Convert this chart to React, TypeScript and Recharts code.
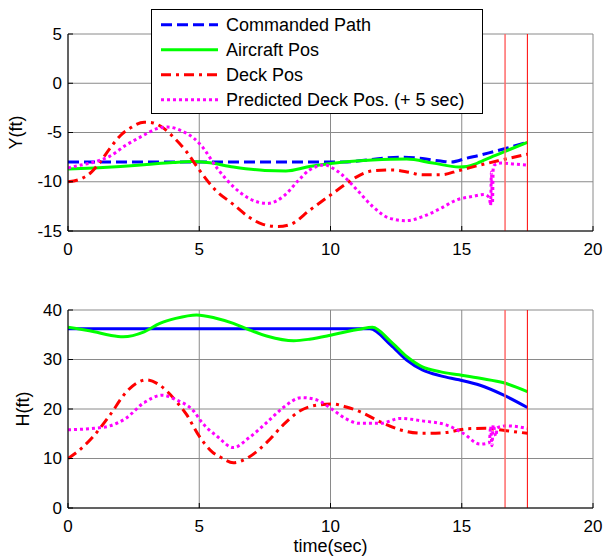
import React from 'react';
import { LineChart, Line, XAxis, YAxis, CartesianGrid, ReferenceLine, Legend, Label } from 'recharts';

// ---------- data ----------
const timeTicks = [0, 5, 10, 15, 20];
const yTicks = [-15, -10, -5, 0, 5];
const hTicks = [0, 10, 20, 30, 40];
const markerTimes = [16.65, 17.5];
const seriesNames = ['Commanded Path', 'Aircraft Pos', 'Deck Pos', 'Predicted Deck Pos. (+ 5 sec)'];

// lateral (Y, ft)
const yCommanded = [[0, -8], [10.5, -8], [11.2, -7.85], [12, -7.6], [12.8, -7.5], [13.5, -7.65], [14.2, -7.9], [14.6, -8.0], [15.2, -7.6], [15.7, -7.3], [16.2, -6.95], [16.7, -6.6], [17.5, -6.0]];
const yAircraft = [[0, -8.7], [1, -8.6], [2, -8.45], [3, -8.25], [4, -8.05], [4.7, -7.95], [5.3, -8.05], [6.3, -8.5], [7.5, -8.85], [8.3, -8.9], [9.2, -8.45], [10, -8.15], [10.5, -8.0], [11.6, -7.8], [12.9, -7.7], [13.9, -8.1], [14.9, -8.5], [15.2, -8.45], [15.6, -8.1], [16.2, -7.4], [16.8, -6.75], [17.5, -6.0]];
const yDeck = [[0, -10], [0.5, -9.7], [0.9, -9.0], [1.22, -8.0], [1.6, -6.6], [2.0, -5.3], [2.4, -4.5], [2.9, -3.95], [3.2, -4.0], [3.6, -4.5], [4.1, -5.7], [4.5, -6.9], [5.0, -8.8], [5.6, -10.8], [6.3, -12.3], [6.9, -13.6], [7.4, -14.3], [8, -14.55], [8.5, -14.3], [9.2, -12.9], [10, -11.35], [10.6, -10.2], [11, -9.5], [11.6, -8.9], [12.4, -8.8], [13, -9.05], [13.5, -9.3], [14.2, -9.3], [14.9, -8.85], [15.7, -8.3], [16.5, -7.8], [17.5, -7.2]];
const yPredicted = [[0, -8.6], [0.5, -8.3], [1, -8.0], [1.6, -7.4], [2.2, -6.3], [2.8, -5.4], [3.4, -4.6], [3.8, -4.45], [4.3, -4.8], [4.8, -5.6], [5.1, -6.4], [5.7, -8.7], [6.3, -10.5], [6.9, -11.7], [7.6, -12.2], [8.2, -11.5], [8.8, -9.8], [9.2, -8.8], [9.8, -8.3], [10, -8.5], [10.4, -9.2], [11, -10.8], [11.6, -12.5], [12.25, -13.7], [12.9, -13.95], [13.5, -13.55], [14.2, -12.7], [14.8, -11.85], [15.4, -11.5], [15.85, -11.3], [16.05, -11.6], [16.1, -12.4], [16.13, -9.0], [16.17, -12.2], [16.2, -8.6], [16.25, -8.3], [16.5, -8.1], [17, -8.2], [17.5, -8.3]];

// height (H, ft)
const hCommanded = [[0, 36.2], [11.5, 36.2], [12.3, 32.9], [12.9, 29.9], [13.5, 27.9], [14.2, 26.7], [14.9, 25.9], [15.7, 24.8], [16.6, 22.8], [17.5, 20.3]];
const hAircraft = [[0, 36.5], [1, 35.6], [1.6, 34.9], [2.1, 34.6], [2.9, 35.6], [3.5, 37.3], [4.1, 38.3], [4.9, 39.0], [5.6, 38.4], [6.3, 37.3], [6.9, 36.0], [7.6, 34.7], [8.6, 33.8], [9.2, 34.1], [10, 34.9], [10.6, 35.6], [11.1, 36.1], [11.6, 36.5], [12.3, 33.6], [12.9, 30.6], [13.5, 28.5], [14.2, 27.5], [14.9, 26.9], [15.7, 26.2], [16.6, 25.3], [17.5, 23.5]];
const hDeck = [[0, 10], [0.5, 12], [1, 14.7], [1.6, 18.8], [2.2, 23.3], [2.6, 25.2], [3, 25.9], [3.5, 24.8], [4.1, 21.7], [4.5, 19], [5, 14.5], [5.5, 11.3], [5.8, 10.3], [6.3, 9.15], [6.9, 10.3], [7.6, 13.4], [8.2, 16.8], [8.8, 19.5], [9.5, 20.8], [10.1, 21.0], [10.6, 20.4], [11.1, 19.5], [11.9, 17.4], [12.65, 15.8], [13.5, 15.1], [14.3, 15.2], [15.2, 16.0], [15.9, 16.1], [16.7, 15.6], [17.5, 15.1]];
const hPredicted = [[0, 15.8], [0.5, 15.9], [1, 16.1], [1.6, 16.6], [2.2, 18.1], [2.9, 21.3], [3.6, 22.8], [4.1, 21.9], [4.8, 19.5], [5.1, 17.3], [5.7, 14.4], [6.3, 12.2], [6.9, 14.2], [7.6, 17.4], [8.2, 20.3], [8.9, 22.3], [9.5, 21.8], [10.1, 19.8], [10.6, 18.0], [11.1, 17.1], [11.9, 17.1], [12.65, 18.1], [13.5, 17.6], [14.4, 16.8], [15.05, 15.1], [15.7, 12.9], [16.05, 13.2], [16.1, 16.5], [16.15, 12.6], [16.2, 16.8], [16.3, 14.5], [16.35, 16.2], [16.7, 16.6], [17.5, 16.1]];

// ---------- helpers ----------
const toRows = (pts: number[][]) => pts.map(([t, v]) => ({ t, v }));
const FONT = '"Liberation Sans", Arial, Helvetica, sans-serif';
const TICK_FS = 17;
const LABEL_FS = 18;
const GRID = '#8a8a8a';
const COLORS = ['#0000ff', '#00ff00', '#ff0000', '#ff00ff'];
const DASHES = ['11 5', undefined, '10 5 3 5', '3 3'];
const MARKER_COLORS = ['#ff6a6a', '#ff0000'];
const MARKER_WIDTHS = [1.5, 1];

const LeftTick = (p: any) => (
  <g>
    <line x1={p.x} x2={p.x + 5} y1={p.y} y2={p.y} stroke="#000" />
    <text x={p.x - 6} y={p.y} textAnchor="end" dominantBaseline="central" fontSize={TICK_FS} fontFamily={FONT} fill="#000">{p.payload.value}</text>
  </g>
);
const RightTick = (p: any) => <line x1={p.x} x2={p.x - 5} y1={p.y} y2={p.y} stroke="#000" />;
const BottomTick = (p: any) => (
  <g>
    <line x1={p.x} x2={p.x} y1={p.y} y2={p.y - 5} stroke="#000" />
    <text x={p.x} y={p.y + 18} textAnchor="middle" dominantBaseline="central" fontSize={TICK_FS} fontFamily={FONT} fill="#000">{p.payload.value}</text>
  </g>
);
const TopTick = (p: any) => <line x1={p.x} x2={p.x} y1={p.y} y2={p.y + 5} stroke="#000" />;

const YLabel = (text: string, cx: number) => (props: any) => {
  const vb = props.viewBox;
  const cy = vb.y + vb.height / 2;
  return (
    <text x={cx} y={cy} transform={`rotate(-90 ${cx} ${cy})`} textAnchor="middle" dominantBaseline="central" fontSize={LABEL_FS} fontFamily={FONT} fill="#000">{text}</text>
  );
};

const LegendBox = () => (
  <svg width={333} height={106} style={{ display: 'block' }}>
    <rect x={0.5} y={0.5} width={331} height={104} fill="#fff" stroke="#000" />
    {seriesNames.map((name, i) => {
      const y = 15.7 + i * 25;
      return (
        <g key={name}>
          <line x1={10} x2={67} y1={y} y2={y} stroke={COLORS[i]} strokeWidth={3} strokeDasharray={DASHES[i]} />
          <text x={75} y={y} dominantBaseline="central" fontSize={LABEL_FS} fontFamily={FONT} fill="#000">{name}</text>
        </g>
      );
    })}
  </svg>
);

export default function App() {
  const topSeries = [yCommanded, yAircraft, yDeck, yPredicted];
  const botSeries = [hCommanded, hAircraft, hDeck, hPredicted];
  const botDashes = [undefined, undefined, DASHES[2], DASHES[3]];

  const commonAxes = (yDomain: number[], yTickVals: number[], yLabel: string, labelX: number, withTime: boolean) => [
    <CartesianGrid key="grid" stroke={GRID} strokeWidth={1} />,
    <XAxis key="xb" xAxisId={0} dataKey="t" type="number" domain={[0, 20]} ticks={timeTicks} allowDataOverflow
      height={49} tickSize={0} tickMargin={0} tickLine={false} axisLine={{ stroke: '#000' }} tick={BottomTick} interval={0}>
      {withTime ? (
        <Label content={(p: any) => {
          const vb = p.viewBox;
          return <text x={vb.x + vb.width / 2} y={vb.y + 38} textAnchor="middle" dominantBaseline="central" fontSize={LABEL_FS} fontFamily={FONT} fill="#000">time(sec)</text>;
        }} />
      ) : null}
    </XAxis>,
    <XAxis key="xt" xAxisId="top" orientation="top" type="number" domain={[0, 20]} ticks={timeTicks} allowDataOverflow
      height={0} tickSize={0} tickMargin={0} tickLine={false} axisLine={{ stroke: '#000' }} tick={TopTick} interval={0} />,
    <YAxis key="yl" yAxisId={0} type="number" domain={yDomain} ticks={yTickVals} allowDataOverflow width={68}
      tickSize={0} tickMargin={0} tickLine={false} axisLine={{ stroke: '#000' }} tick={LeftTick} interval={0}>
      <Label content={YLabel(yLabel, labelX)} />
    </YAxis>,
    <YAxis key="yr" yAxisId="right" orientation="right" type="number" domain={yDomain} ticks={yTickVals} allowDataOverflow width={0}
      tickSize={0} tickMargin={0} tickLine={false} axisLine={{ stroke: '#000' }} tick={RightTick} interval={0} />,
  ];

  const markers = markerTimes.map((t, i) => (
    <ReferenceLine key={'m' + i} x={t} stroke={MARKER_COLORS[i]} strokeWidth={MARKER_WIDTHS[i]} />
  ));

  return (
    <div style={{ position: 'absolute', left: 0, top: 0, width: 603, height: 557, background: '#fff' }}>
      <div style={{ position: 'absolute', left: 0, top: 0 }}>
        <LineChart width={603} height={280} margin={{ top: 34, right: 10, bottom: 0, left: 0 }}>
          {commonAxes([-15, 5], yTicks, 'Y(ft)', 16, false)}
          {topSeries.map((s, i) => (
            <Line key={seriesNames[i]} name={seriesNames[i]} data={toRows(s)} dataKey="v" type="monotone"
              stroke={COLORS[i]} strokeWidth={3} strokeDasharray={DASHES[i]} dot={false} activeDot={false}
              isAnimationActive={false} />
          ))}
          {markers}
          <Legend layout="vertical" align="center" verticalAlign="middle" width={333} height={106}
            wrapperStyle={{ left: 151, top: 9, width: 333, height: 106 }} content={() => <LegendBox />} />
        </LineChart>
      </div>
      <div style={{ position: 'absolute', left: 0, top: 280 }}>
        <LineChart width={603} height={277} margin={{ top: 30, right: 10, bottom: 0, left: 0 }}>
          {commonAxes([0, 40], hTicks, 'H(ft)', 23, true)}
          {botSeries.map((s, i) => (
            <Line key={seriesNames[i]} name={seriesNames[i]} data={toRows(s)} dataKey="v" type="monotone"
              stroke={COLORS[i]} strokeWidth={3} strokeDasharray={botDashes[i]} dot={false} activeDot={false}
              isAnimationActive={false} />
          ))}
          {markers}
        </LineChart>
      </div>
    </div>
  );
}
